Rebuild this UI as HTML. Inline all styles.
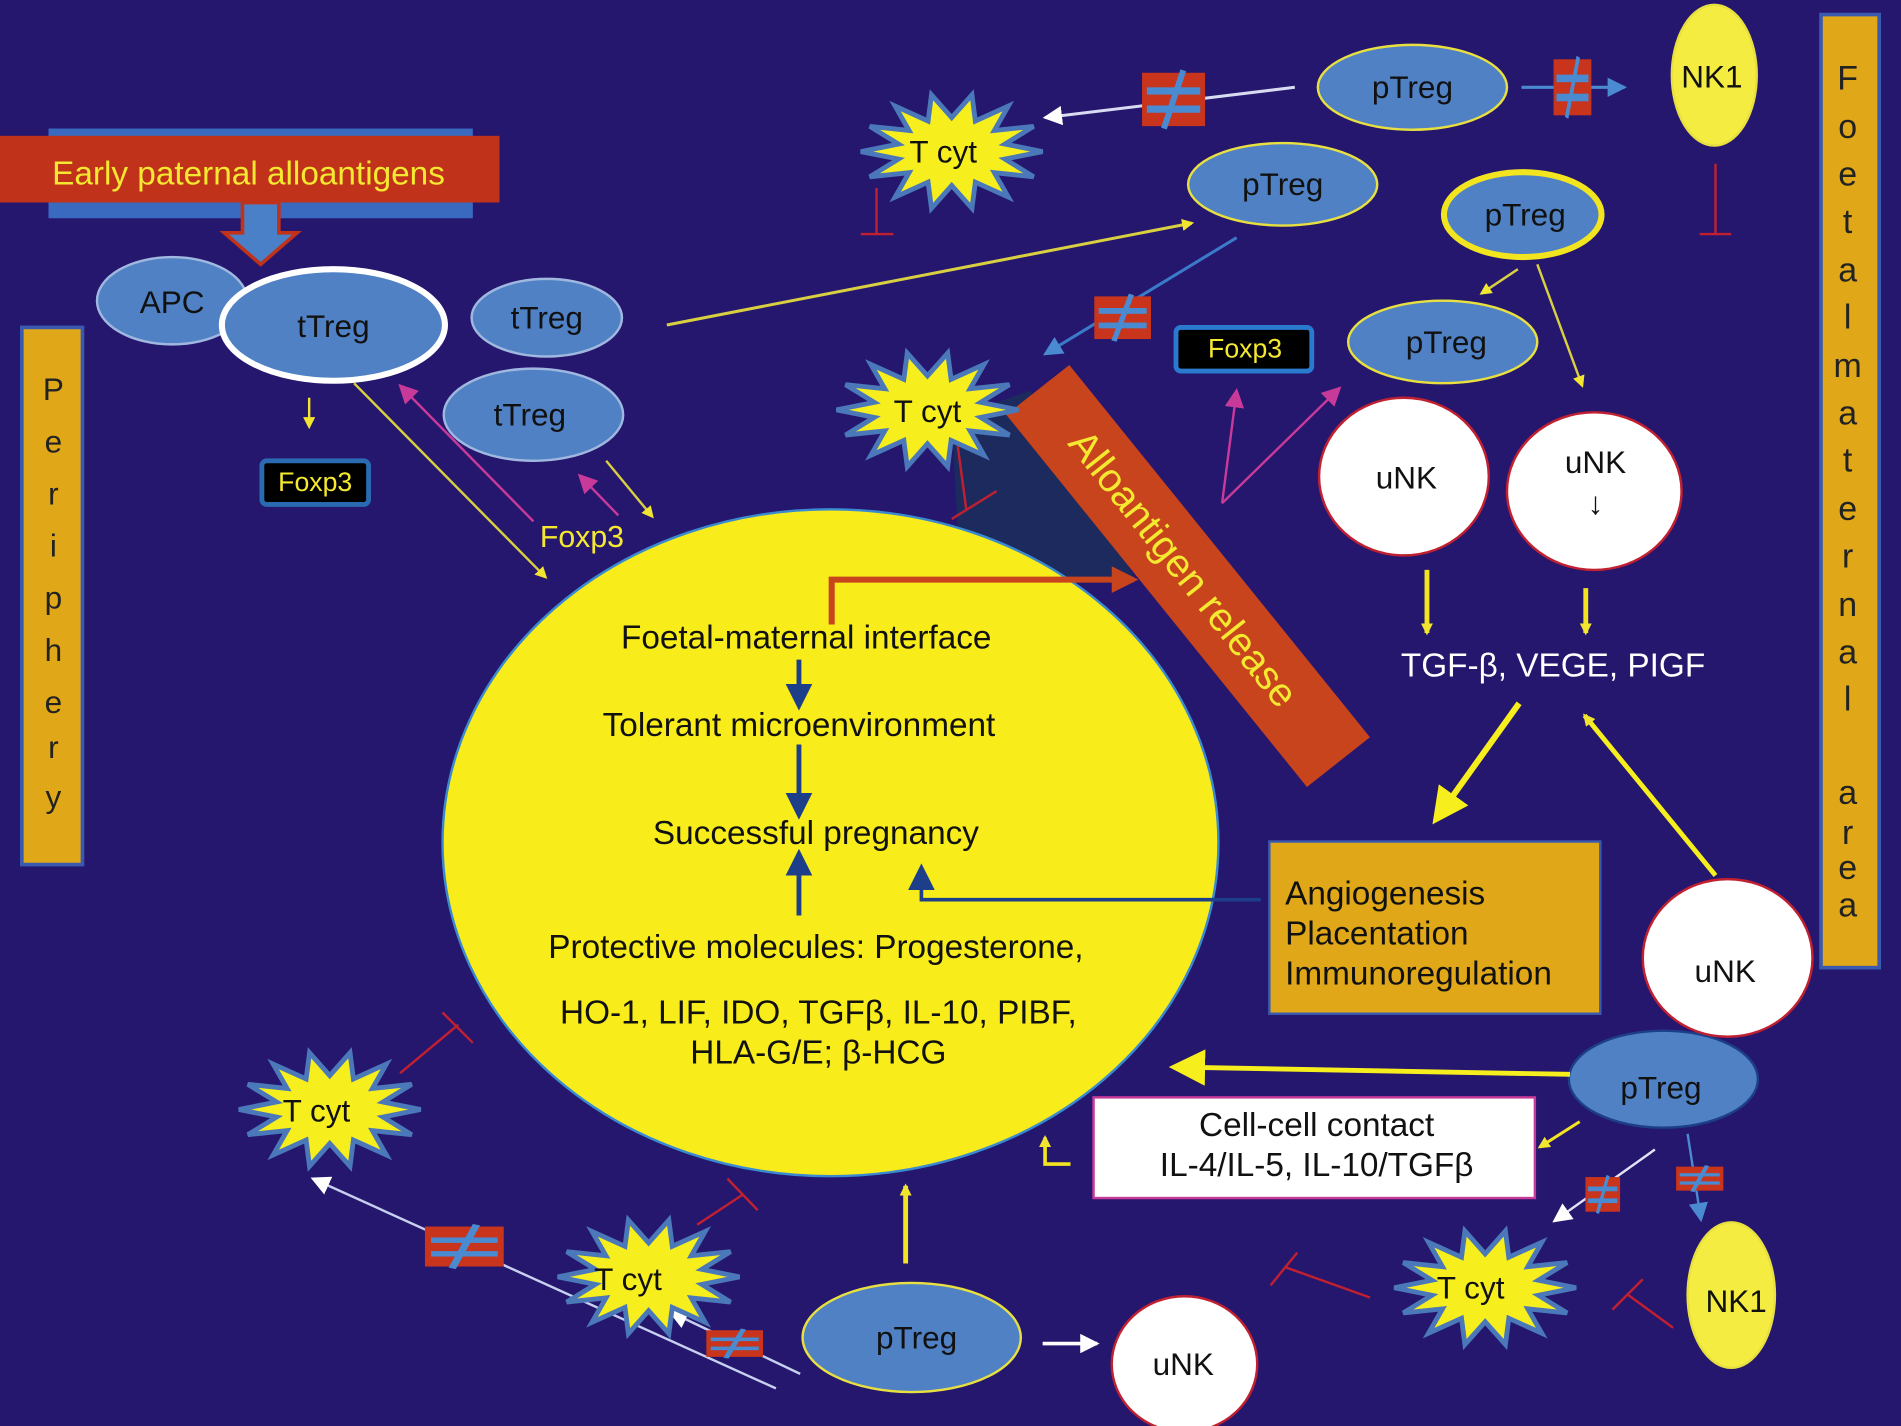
<!DOCTYPE html>
<html><head><meta charset="utf-8"><style>
html,body{margin:0;padding:0;background:#25166e;}
svg{display:block;}
text{font-family:"Liberation Sans",sans-serif;}
</style></head><body>
<svg width="1901" height="1426" viewBox="0 0 1568 1176" preserveAspectRatio="none" xmlns="http://www.w3.org/2000/svg">
<defs>
<polygon id="star" points="75,0 43.9,6.2 67.6,20.8 35.2,17.4 46.7,37.5 19.5,25.2 16.7,46.8 0,28 -16.7,46.8 -19.5,25.2 -46.7,37.5 -35.2,17.4 -67.6,20.8 -43.9,6.2 -75,0 -43.9,-6.2 -67.6,-20.8 -35.2,-17.4 -46.7,-37.5 -19.5,-25.2 -16.7,-46.8 0,-28 16.7,-46.8 19.5,-25.2 46.7,-37.5 35.2,-17.4 67.6,-20.8 43.9,-6.2" fill="#f7ee1e" stroke="#4a78b8" stroke-width="4"/>
<marker id="ay" markerWidth="10" markerHeight="10" refX="8" refY="5" orient="auto" markerUnits="userSpaceOnUse"><path d="M0,0 L10,5 L0,10z" fill="#f2e530"/></marker>
<marker id="ayb" markerWidth="30" markerHeight="30" refX="24" refY="15" orient="auto" markerUnits="userSpaceOnUse"><path d="M0,0 L30,15 L0,30z" fill="#f7ee1e"/></marker>
<marker id="aw" markerWidth="16" markerHeight="16" refX="14" refY="8" orient="auto" markerUnits="userSpaceOnUse"><path d="M0,0 L16,8 L0,16z" fill="#fff"/></marker>
<marker id="am" markerWidth="16" markerHeight="16" refX="14" refY="8" orient="auto" markerUnits="userSpaceOnUse"><path d="M0,0 L16,8 L0,16z" fill="#c83a9a"/></marker>
<marker id="ab" markerWidth="16" markerHeight="16" refX="14" refY="8" orient="auto" markerUnits="userSpaceOnUse"><path d="M0,0 L16,8 L0,16z" fill="#4a8ad0"/></marker>
<marker id="abd" markerWidth="22" markerHeight="22" refX="18" refY="11" orient="auto" markerUnits="userSpaceOnUse"><path d="M0,0 L22,11 L0,22z" fill="#1d3f8a"/></marker>
<marker id="ar" markerWidth="22" markerHeight="22" refX="18" refY="11" orient="auto" markerUnits="userSpaceOnUse"><path d="M0,0 L22,11 L0,22z" fill="#c8441c"/></marker>
<g id="neq"><rect x="-26" y="-22" width="52" height="44" fill="#c8341c"/><rect x="-22" y="-10" width="44" height="6" fill="#4a8ad0"/><rect x="-22" y="5" width="44" height="6" fill="#4a8ad0"/><line x1="8" y1="-24" x2="-8" y2="24" stroke="#4a8ad0" stroke-width="5"/></g>
</defs>
<rect width="1568" height="1176" fill="#25166e"/>

<rect x="18" y="270" width="50" height="443" fill="#e0a818" stroke="#3a5ab0" stroke-width="3"/>
<g font-size="26" fill="#222" text-anchor="middle">
<text x="44" y="330">P</text><text x="44" y="373">e</text><text x="44" y="416">r</text><text x="44" y="459">i</text><text x="44" y="502">p</text><text x="44" y="545">h</text><text x="44" y="588">e</text><text x="44" y="625">r</text><text x="44" y="666">y</text>
</g>
<rect x="1502" y="12" width="48" height="786" fill="#e0a818" stroke="#3a5ab0" stroke-width="3"/>
<g font-size="28" fill="#222" text-anchor="middle">
<text x="1524" y="74">F</text><text x="1524" y="114">o</text><text x="1524" y="153">e</text><text x="1524" y="192">t</text><text x="1524" y="232">a</text><text x="1524" y="271">l</text><text x="1524" y="311">m</text><text x="1524" y="350">a</text><text x="1524" y="389">t</text><text x="1524" y="429">e</text><text x="1524" y="468">r</text><text x="1524" y="508">n</text><text x="1524" y="547">a</text><text x="1524" y="586">l</text>
<text x="1524" y="663">a</text><text x="1524" y="696">r</text><text x="1524" y="725">e</text><text x="1524" y="756">a</text>
</g>

<rect x="40" y="106" width="350" height="74" fill="#3a6ac0"/>
<rect x="0" y="112" width="412" height="55" fill="#c0331a"/>
<text x="43" y="152" font-size="27.5" fill="#f5e830">Early paternal alloantigens</text>
<path d="M200,167 L230,167 L230,192 L245,192 L215,218 L185,192 L200,192z" fill="#4a80c8" stroke="#c0331a" stroke-width="3"/>

<polygon points="785,345 850,322 935,475 840,478 790,440" fill="#1c2a5e"/>
<ellipse cx="685" cy="695" rx="320" ry="275" fill="#f8ec1a" stroke="#3a8ad0" stroke-width="2"/>

<polygon points="882,301 830,342 1078,649 1130,608" fill="#c8441c"/>
<text x="0" y="0" font-size="33" fill="#f5e830" transform="translate(880,366) rotate(51.5)">Alloantigen release</text>

<polyline points="686,515 686,478 935,478" fill="none" stroke="#c8441c" stroke-width="5" marker-end="url(#ar)"/>

<g font-size="27.5" fill="#111" text-anchor="middle">
<text x="665" y="535">Foetal-maternal interface</text>
<text x="659" y="607">Tolerant microenvironment</text>
<text x="673" y="696">Successful pregnancy</text>
<text x="673" y="790">Protective molecules: Progesterone,</text>
<text x="675" y="844">HO-1, LIF, IDO, TGFβ, IL-10, PIBF,</text>
<text x="675" y="877">HLA-G/E; β-HCG</text>
</g>
<line x1="659" y1="544" x2="659" y2="582" stroke="#1d3f8a" stroke-width="4" marker-end="url(#abd)"/>
<line x1="659" y1="614" x2="659" y2="672" stroke="#1d3f8a" stroke-width="4" marker-end="url(#abd)"/>
<line x1="659" y1="755" x2="659" y2="704" stroke="#1d3f8a" stroke-width="4" marker-end="url(#abd)"/>
<polyline points="1040,742 760,742 760,716" fill="none" stroke="#1d3f8a" stroke-width="3" marker-end="url(#abd)"/>

<rect x="1047" y="694" width="273" height="142" fill="#e0a818" stroke="#3a5ab0" stroke-width="2"/>
<g font-size="27.5" fill="#111"><text x="1060" y="746">Angiogenesis</text><text x="1060" y="779">Placentation</text><text x="1060" y="812">Immunoregulation</text></g>

<ellipse cx="142" cy="248" rx="62" ry="36" fill="#4f81c4" stroke="#a0b8e0" stroke-width="2"/>
<text x="142" y="258" font-size="26" fill="#111" text-anchor="middle">APC</text>
<ellipse cx="275" cy="268" rx="92" ry="46" fill="#4f81c4" stroke="#fff" stroke-width="5"/>
<text x="275" y="278" font-size="26" fill="#111" text-anchor="middle">tTreg</text>
<ellipse cx="451" cy="262" rx="62" ry="32" fill="#4f81c4" stroke="#a0b8e0" stroke-width="2"/>
<text x="451" y="271" font-size="26" fill="#111" text-anchor="middle">tTreg</text>
<ellipse cx="440" cy="342" rx="74" ry="38" fill="#4f81c4" stroke="#a0b8e0" stroke-width="2"/>
<text x="437" y="351" font-size="26" fill="#111" text-anchor="middle">tTreg</text>

<rect x="216" y="380" width="88" height="36" rx="4" fill="#000" stroke="#2a6ab0" stroke-width="4"/>
<text x="260" y="405" font-size="22" fill="#f5e830" text-anchor="middle">Foxp3</text>
<rect x="970" y="270" width="112" height="36" rx="4" fill="#000" stroke="#2a7ad0" stroke-width="4"/>
<text x="1027" y="295" font-size="22" fill="#f5e830" text-anchor="middle">Foxp3</text>
<text x="480" y="451" font-size="25" fill="#f5e830" text-anchor="middle">Foxp3</text>

<line x1="255" y1="328" x2="255" y2="352" stroke="#f2e530" stroke-width="2" marker-end="url(#ay)"/>
<line x1="292" y1="316" x2="450" y2="476" stroke="#d8d040" stroke-width="2" marker-end="url(#ay)"/>
<line x1="440" y1="430" x2="330" y2="318" stroke="#c83a9a" stroke-width="2" marker-end="url(#am)"/>
<line x1="510" y1="425" x2="478" y2="392" stroke="#c83a9a" stroke-width="2" marker-end="url(#am)"/>
<line x1="500" y1="380" x2="538" y2="426" stroke="#d8d040" stroke-width="2" marker-end="url(#ay)"/>
<line x1="550" y1="268" x2="983" y2="184" stroke="#d8d040" stroke-width="2.5" marker-end="url(#ay)"/>

<line x1="1068" y1="72" x2="862" y2="97" stroke="#d8dcf0" stroke-width="2.5" marker-end="url(#aw)"/>
<use href="#neq" x="968" y="82"/>
<line x1="1255" y1="72" x2="1340" y2="72" stroke="#4a8ad0" stroke-width="2.5" marker-end="url(#ab)"/>
<g transform="translate(1297,72) scale(0.6,1.05)"><use href="#neq"/></g>
<line x1="1020" y1="196" x2="862" y2="292" stroke="#3a7ac8" stroke-width="2.5" marker-end="url(#ab)"/>
<g transform="translate(926,262) scale(0.9,0.8)"><use href="#neq"/></g>
<line x1="723" y1="155" x2="723" y2="193" stroke="#c02030" stroke-width="2"/><line x1="710" y1="193" x2="737" y2="193" stroke="#c02030" stroke-width="2"/>
<line x1="1415" y1="135" x2="1415" y2="193" stroke="#c02030" stroke-width="2"/><line x1="1402" y1="193" x2="1428" y2="193" stroke="#c02030" stroke-width="2"/>
<line x1="1008" y1="415" x2="1020" y2="322" stroke="#c83a9a" stroke-width="2" marker-end="url(#am)"/>
<line x1="1008" y1="415" x2="1105" y2="320" stroke="#c83a9a" stroke-width="2" marker-end="url(#am)"/>
<line x1="1252" y1="222" x2="1222" y2="242" stroke="#d8d040" stroke-width="2" marker-end="url(#ay)"/>
<line x1="1268" y1="218" x2="1305" y2="318" stroke="#d8d040" stroke-width="2" marker-end="url(#ay)"/>
<line x1="790" y1="368" x2="797" y2="420" stroke="#c02030" stroke-width="2"/><line x1="785" y1="428" x2="822" y2="405" stroke="#c02030" stroke-width="2"/>

<g font-size="26" fill="#111" text-anchor="middle">
<ellipse cx="1165" cy="72" rx="78" ry="35" fill="#4f81c4" stroke="#e8e040" stroke-width="2"/><text x="1165" y="81">pTreg</text>
<ellipse cx="1058" cy="152" rx="78" ry="34" fill="#4f81c4" stroke="#e8e040" stroke-width="2"/><text x="1058" y="161">pTreg</text>
<ellipse cx="1256" cy="177" rx="65" ry="35" fill="#4f81c4" stroke="#f2e520" stroke-width="5"/><text x="1258" y="186">pTreg</text>
<ellipse cx="1190" cy="282" rx="78" ry="34" fill="#4f81c4" stroke="#e8e040" stroke-width="2"/><text x="1193" y="291">pTreg</text>
<ellipse cx="1372" cy="890" rx="78" ry="40" fill="#4f81c4" stroke="#1d3f8a" stroke-width="2"/><text x="1370" y="906">pTreg</text>
<ellipse cx="752" cy="1103" rx="90" ry="45" fill="#4f81c4" stroke="#e8e040" stroke-width="2"/><text x="756" y="1112">pTreg</text>
<ellipse cx="1414" cy="62" rx="35" ry="58" fill="#f4ec40" stroke="#e8e040" stroke-width="2"/><text x="1412" y="72">NK1</text>
<ellipse cx="1428" cy="1068" rx="36" ry="60" fill="#f4ec40" stroke="#e8e040" stroke-width="2"/><text x="1432" y="1082">NK1</text>
<ellipse cx="1158" cy="393" rx="70" ry="65" fill="#fff" stroke="#c02030" stroke-width="2"/><text x="1160" y="403">uNK</text>
<ellipse cx="1315" cy="405" rx="72" ry="65" fill="#fff" stroke="#c02030" stroke-width="2"/><text x="1316" y="390">uNK</text><text x="1316" y="424">↓</text>
<ellipse cx="1425" cy="790" rx="70" ry="65" fill="#fff" stroke="#c02030" stroke-width="2"/><text x="1423" y="810">uNK</text>
<ellipse cx="977" cy="1125" rx="60" ry="56" fill="#fff" stroke="#c02030" stroke-width="2"/><text x="976" y="1134">uNK</text>
</g>

<line x1="1177" y1="470" x2="1177" y2="522" stroke="#f2e520" stroke-width="4" marker-end="url(#ay)"/>
<line x1="1308" y1="485" x2="1308" y2="522" stroke="#f2e520" stroke-width="4" marker-end="url(#ay)"/>
<text x="1281" y="558" font-size="27.5" fill="#fff" text-anchor="middle">TGF-β, VEGE, PIGF</text>
<line x1="1253" y1="580" x2="1185" y2="675" stroke="#f7ee1e" stroke-width="5" marker-end="url(#ayb)"/>
<line x1="1415" y1="722" x2="1307" y2="590" stroke="#f7ee1e" stroke-width="4" marker-end="url(#ay)"/>

<line x1="1295" y1="886" x2="970" y2="880" stroke="#f7ee1e" stroke-width="4" marker-end="url(#ayb)"/>
<rect x="902" y="905" width="364" height="83" fill="#fff" stroke="#c83a9a" stroke-width="2"/>
<text x="1086" y="937" font-size="27.5" fill="#111" text-anchor="middle">Cell-cell contact</text>
<text x="1086" y="970" font-size="27.5" fill="#111" text-anchor="middle">IL-4/IL-5, IL-10/TGFβ</text>
<line x1="1303" y1="925" x2="1270" y2="946" stroke="#f2e520" stroke-width="2.5" marker-end="url(#ay)"/>
<line x1="1365" y1="948" x2="1282" y2="1007" stroke="#e0e4f4" stroke-width="2" marker-end="url(#aw)"/>
<g transform="translate(1322,985) scale(0.55,0.65)"><use href="#neq"/></g>
<line x1="1392" y1="935" x2="1403" y2="1006" stroke="#4a8ad0" stroke-width="2" marker-end="url(#ab)"/>
<g transform="translate(1402,972) scale(0.75,0.45)"><use href="#neq"/></g>
<polyline points="883,960 862,960 862,938" fill="none" stroke="#f2e520" stroke-width="3" marker-end="url(#ay)"/>
<line x1="747" y1="1042" x2="747" y2="978" stroke="#f2e520" stroke-width="4" marker-end="url(#ay)"/>
<line x1="860" y1="1108" x2="905" y2="1108" stroke="#fff" stroke-width="3" marker-end="url(#aw)"/>
<line x1="640" y1="1145" x2="258" y2="972" stroke="#c8d0f0" stroke-width="2" marker-end="url(#aw)"/>
<g transform="translate(383,1028) scale(1.25,0.75)"><use href="#neq"/></g>
<line x1="660" y1="1133" x2="553" y2="1082" stroke="#c8d0f0" stroke-width="2" marker-end="url(#aw)"/>
<g transform="translate(606,1108) scale(0.9,0.5)"><use href="#neq"/></g>
<line x1="575" y1="1010" x2="613" y2="985" stroke="#c02030" stroke-width="2"/><line x1="600" y1="972" x2="625" y2="998" stroke="#c02030" stroke-width="2"/>
<line x1="330" y1="885" x2="378" y2="845" stroke="#c02030" stroke-width="2"/><line x1="365" y1="835" x2="390" y2="860" stroke="#c02030" stroke-width="2"/>
<line x1="1130" y1="1070" x2="1060" y2="1045" stroke="#c02030" stroke-width="2"/><line x1="1048" y1="1060" x2="1070" y2="1033" stroke="#c02030" stroke-width="2"/>
<line x1="1380" y1="1095" x2="1343" y2="1068" stroke="#c02030" stroke-width="2"/><line x1="1330" y1="1080" x2="1355" y2="1055" stroke="#c02030" stroke-width="2"/>

<use href="#star" x="785" y="125"/><text x="778" y="134" font-size="26" fill="#111" text-anchor="middle">T cyt</text>
<use href="#star" x="765" y="338"/><text x="765" y="348" font-size="26" fill="#111" text-anchor="middle">T cyt</text>
<use href="#star" x="272" y="915"/><text x="261" y="925" font-size="26" fill="#111" text-anchor="middle">T cyt</text>
<use href="#star" x="535" y="1053"/><text x="518" y="1064" font-size="26" fill="#111" text-anchor="middle">T cyt</text>
<use href="#star" x="1225" y="1062"/><text x="1213" y="1071" font-size="26" fill="#111" text-anchor="middle">T cyt</text>
</svg>
</body></html>
